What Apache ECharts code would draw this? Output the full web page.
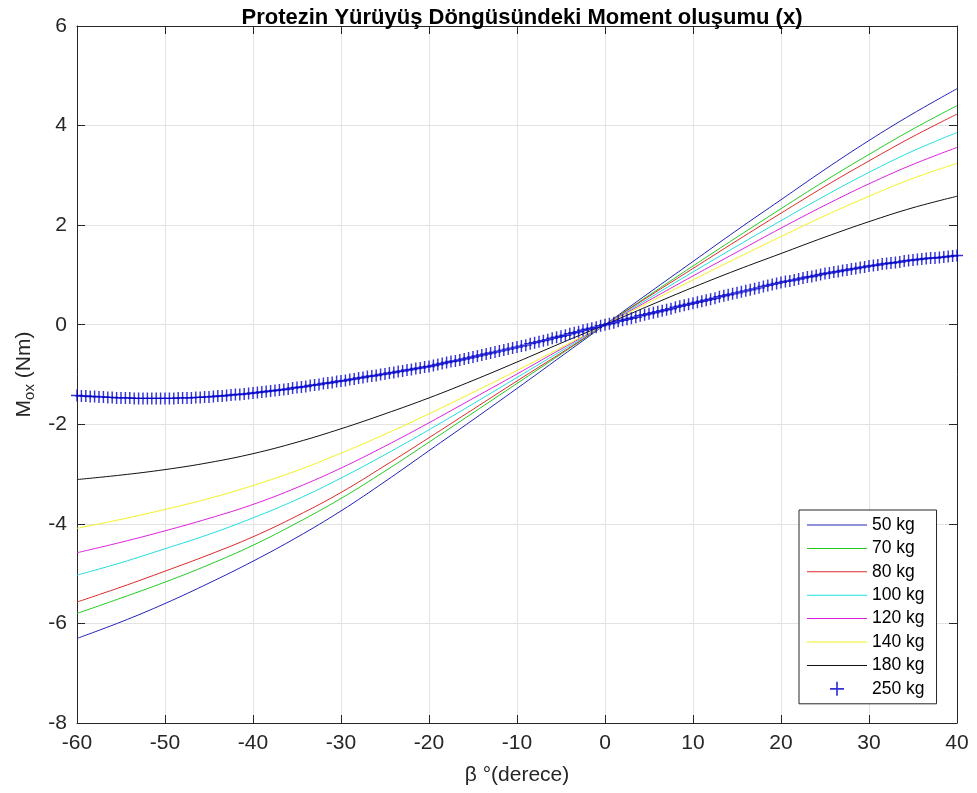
<!DOCTYPE html>
<html>
<head>
<meta charset="utf-8">
<script src="https://cdn.jsdelivr.net/npm/echarts@6/dist/echarts.min.js"></script>
<style>
  html, body { margin: 0; padding: 0; background: #fff; }
  #chart { width: 977px; height: 793px; }
</style>
</head>
<body>
<div id="chart"></div>
<script>
// açılar (derece), 5° adım
const beta = [-60, -55, -50, -45, -40, -35, -30, -25, -20, -15, -10, -5, 0, 5, 10, 15, 20, 25, 30, 35, 40]

// moment değerleri (Nm)
const m50  = [-6.30, -5.97, -5.60, -5.19, -4.75, -4.27, -3.74, -3.15, -2.53, -1.91, -1.28, -0.64, 0, 0.64, 1.27, 1.90, 2.51, 3.12, 3.70, 4.24, 4.74]
const m70  = [-5.80, -5.49, -5.17, -4.82, -4.43, -3.98, -3.49, -2.94, -2.36, -1.77, -1.18, -0.59, 0, 0.59, 1.18, 1.76, 2.33, 2.89, 3.42, 3.93, 4.40]
const m80  = [-5.57, -5.27, -4.95, -4.62, -4.26, -3.84, -3.37, -2.83, -2.27, -1.70, -1.13, -0.57, 0, 0.57, 1.13, 1.69, 2.24, 2.78, 3.29, 3.78, 4.23]
const m100 = [-5.03, -4.78, -4.50, -4.21, -3.88, -3.51, -3.08, -2.61, -2.11, -1.59, -1.06, -0.53, 0, 0.53, 1.06, 1.58, 2.09, 2.59, 3.06, 3.49, 3.86]
const m120 = [-4.58, -4.37, -4.14, -3.89, -3.61, -3.27, -2.88, -2.44, -1.97, -1.48, -0.99, -0.49, 0, 0.49, 0.98, 1.46, 1.94, 2.40, 2.83, 3.22, 3.56]
const m140 = [-4.09, -3.91, -3.71, -3.49, -3.23, -2.93, -2.58, -2.20, -1.79, -1.36, -0.92, -0.46, 0, 0.45, 0.90, 1.34, 1.77, 2.19, 2.58, 2.94, 3.24]
const m180 = [-3.11, -3.02, -2.91, -2.77, -2.59, -2.36, -2.09, -1.79, -1.47, -1.12, -0.75, -0.37, 0, 0.38, 0.75, 1.10, 1.43, 1.76, 2.07, 2.35, 2.58]

// 250 kg: -60..40, 0.5° adım (işaretli)
const m250 = [
  -1.42, -1.43, -1.43, -1.44, -1.44, -1.45, -1.45, -1.46, -1.46, -1.47,
  -1.47, -1.47, -1.47, -1.48, -1.48, -1.48, -1.48, -1.48, -1.48, -1.48,
  -1.48, -1.48, -1.48, -1.47, -1.47, -1.47, -1.47, -1.46, -1.46, -1.45,
  -1.45, -1.44, -1.43, -1.43, -1.42, -1.41, -1.40, -1.40, -1.39, -1.38,
  -1.37, -1.36, -1.35, -1.34, -1.33, -1.32, -1.31, -1.30, -1.29, -1.27,
  -1.26, -1.25, -1.24, -1.22, -1.21, -1.20, -1.18, -1.17, -1.16, -1.14,
  -1.13, -1.12, -1.10, -1.09, -1.07, -1.06, -1.04, -1.03, -1.02, -1.00,
  -0.99, -0.97, -0.96, -0.94, -0.93, -0.91, -0.90, -0.88, -0.87, -0.85,
  -0.84, -0.82, -0.80, -0.78, -0.76, -0.74, -0.73, -0.71, -0.69, -0.67,
  -0.65, -0.63, -0.61, -0.59, -0.57, -0.55, -0.53, -0.51, -0.49, -0.47,
  -0.45, -0.43, -0.41, -0.38, -0.36, -0.34, -0.32, -0.30, -0.27, -0.25,
  -0.23, -0.21, -0.18, -0.16, -0.14, -0.11, -0.09, -0.07, -0.05, -0.02,
  0,
  0.02, 0.04, 0.07, 0.09, 0.11, 0.13, 0.15, 0.18, 0.20, 0.22,
  0.24, 0.26, 0.28, 0.30, 0.32, 0.35, 0.37, 0.39, 0.41, 0.43,
  0.45, 0.47, 0.49, 0.51, 0.53, 0.56, 0.58, 0.60, 0.62, 0.64,
  0.66, 0.68, 0.70, 0.72, 0.74, 0.77, 0.79, 0.81, 0.83, 0.85,
  0.87, 0.88, 0.90, 0.92, 0.94, 0.96, 0.97, 0.99, 1.01, 1.03,
  1.04, 1.06, 1.07, 1.09, 1.10, 1.12, 1.13, 1.15, 1.16, 1.18,
  1.19, 1.20, 1.22, 1.23, 1.24, 1.25, 1.26, 1.28, 1.29, 1.30,
  1.31, 1.32, 1.33, 1.34, 1.34, 1.35, 1.36, 1.37, 1.38, 1.39
]

const names = ['50 kg', '70 kg', '80 kg', '100 kg', '120 kg', '140 kg', '180 kg', '250 kg']
const colors = ['#2222b8', '#22cc22', '#dd2a2a', '#22dede', '#dd22dd', '#f2f222', '#111111', '#0000cc']

const font = 'Liberation Sans, Arial, Helvetica, sans-serif'
const axisColor = '#262626'

const pairs = (ys) => ys.map((v, i) => [beta[i], v])
const pairs250 = m250.map((v, i) => [-60 + i * 0.5, v])

const plus = 'path://M4.4,0 H5.6 V4.4 H10 V5.6 H5.6 V10 H4.4 V5.6 H0 V4.4 H4.4 Z'
const lineIcon = 'path://M0,0 H60 V1 H0 Z'

const lineSeries = [m50, m70, m80, m100, m120, m140, m180].map((ys, i) => ({
  name: names[i],
  type: 'line',
  data: pairs(ys),
  smooth: 0.4,
  symbol: 'none',
  lineStyle: { color: colors[i], width: 1 },
  itemStyle: { color: colors[i] },
  z: 3
}))

// üst ve sağ kenar (MATLAB kutusu)
const boxAxis = {
  type: 'value',
  axisLine: { show: true, onZero: false, lineStyle: { color: axisColor, width: 1 } },
  axisTick: { show: true, inside: true, length: 8, lineStyle: { color: axisColor } },
  splitLine: { show: false },
  axisLabel: { show: false }
}

const chart = echarts.init(document.getElementById('chart'))
chart.setOption({
  animation: false,
  backgroundColor: '#fff',
  title: {
    text: 'Protezin Yürüyüş Döngüsündeki Moment oluşumu (x)',
    left: 517, top: 2, textAlign: 'center',
    textStyle: { fontFamily: font, fontSize: 22, fontWeight: 'bold', color: '#000' }
  },
  grid: { left: 77, right: 20, top: 26, bottom: 70, containLabel: false },
  legend: {
    orient: 'vertical',
    left: 799, top: 510,
    padding: [6, 12, 6, 8],
    itemWidth: 60, itemHeight: 14, itemGap: 5.4,
    backgroundColor: '#fff',
    borderColor: axisColor, borderWidth: 1,
    textStyle: { fontFamily: font, fontSize: 17.5, color: '#000' },
    data: names.map((n, i) => (i < 7 ? { name: n, icon: lineIcon } : { name: n }))
  },
  xAxis: [
    {
      type: 'value', min: -60, max: 40, interval: 10,
      name: 'β °(derece)', nameLocation: 'middle', nameGap: 42,
      nameTextStyle: { fontFamily: font, fontSize: 21, color: axisColor },
      axisLine: { show: true, onZero: false, lineStyle: { color: axisColor } },
      axisTick: { show: true, inside: true, length: 8, lineStyle: { color: axisColor } },
      axisLabel: { fontFamily: font, fontSize: 21, color: axisColor, margin: 10 },
      splitLine: { show: true, lineStyle: { color: '#e3e3e3', width: 1 } }
    },
    Object.assign({}, boxAxis, { position: 'top', min: -60, max: 40, interval: 10 })
  ],
  yAxis: [
    {
      type: 'value', min: -8, max: 6, interval: 2,
      name: 'M{sub|ox} (Nm)', nameLocation: 'middle', nameGap: 40, nameRotate: 90,
      nameTextStyle: {
        fontFamily: font, fontSize: 21, color: axisColor,
        rich: { sub: { fontFamily: font, fontSize: 15, color: axisColor, padding: [10, 0, 0, 0] } }
      },
      axisLine: { show: true, onZero: false, lineStyle: { color: axisColor } },
      axisTick: { show: true, inside: true, length: 8, lineStyle: { color: axisColor } },
      axisLabel: { fontFamily: font, fontSize: 21, color: axisColor, margin: 10 },
      splitLine: { show: true, lineStyle: { color: '#e3e3e3', width: 1 } }
    },
    Object.assign({}, boxAxis, { position: 'right', min: -8, max: 6, interval: 2 })
  ],
  series: lineSeries.concat([{
    name: names[7],
    type: 'scatter',
    data: pairs250,
    symbol: plus,
    symbolSize: 12,
    itemStyle: { color: colors[7] },
    z: 4
  }])
})
</script>
</body>
</html>
